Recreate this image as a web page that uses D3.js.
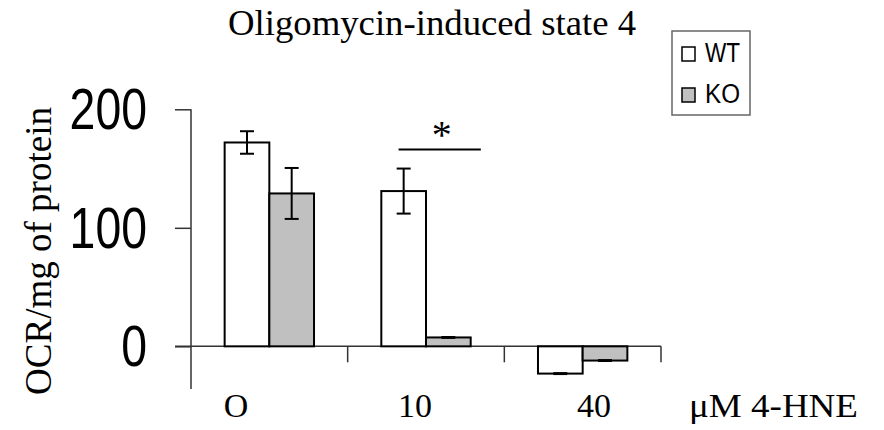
<!DOCTYPE html>
<html>
<head>
<meta charset="utf-8">
<script src="https://cdn.jsdelivr.net/npm/d3@7"></script>
<style>
  html, body { margin: 0; padding: 0; background: #fff; }
  svg { display: block; }
  .serif { font-family: "Liberation Serif", "Times New Roman", Times, serif; }
  .sans { font-family: "Liberation Sans", Arial, Helvetica, sans-serif; }
</style>
</head>
<body>
<svg id="chart" width="884" height="430"></svg>
<script>
// ---- data ----
const categories = ["O", "10", "40"];
const seriesNames = ["WT", "KO"];
const wtValues = [172, 131, -23];
const wtErrors = [9.5, 19, 0.4];
const koValues = [129, 7.5, -12];
const koErrors = [21.5, 0.4, 0.4];
const yTicks = [0, 100, 200];
const titleText = "Oligomycin-induced state 4";
const yLabelText = "OCR/mg of protein";
const xUnitText = "\u03bcM 4-HNE";
const significance = [{ group: "10", value: 166, mark: "*" }];

const colors = { WT: "#ffffff", KO: "#c0c0c0" };

const svg = d3.select("#chart");

// scales
const x0 = d3.scaleBand().domain(categories).range([191, 661]).paddingInner(0).paddingOuter(0);
const x1 = d3.scaleBand().domain(seriesNames).range([0, x0.bandwidth()]).paddingInner(0).paddingOuter(0.753);
const y = d3.scaleLinear().domain([-36, 200]).range([389, 109.3]);
const xLab = d3.scalePoint().domain(categories).range([236, 594]);

const rows = categories.map((c, i) => ({
  cat: c,
  bars: [
    { s: "WT", v: wtValues[i], e: wtErrors[i] },
    { s: "KO", v: koValues[i], e: koErrors[i] }
  ]
}));

// y axis
const yAxis = d3.axisLeft(y).tickValues(yTicks).tickSize(16).tickSizeOuter(0).tickFormat(d3.format("d"));
const gy = svg.append("g").attr("transform", "translate(191,0)").call(yAxis);
gy.attr("font-family", null).attr("font-size", null);
gy.select(".domain").attr("stroke", "#333").attr("stroke-width", 1.5)
  .attr("d", `M0,${y(200)}V${y(-36)}`);
gy.selectAll(".tick line").attr("stroke", "#333").attr("stroke-width", 1.5);
gy.selectAll(".tick text")
  .attr("class", "sans")
  .attr("x", 0).attr("dy", null).attr("y", 19.5)
  .attr("transform", "translate(-44,0) scale(0.8,1)")
  .attr("text-anchor", "end")
  .style("font-size", "58px").attr("fill", "#000");

// zero line with category ticks
svg.append("line")
  .attr("x1", 175).attr("x2", x0.range()[1])
  .attr("y1", y(0)).attr("y2", y(0))
  .attr("stroke", "#333").attr("stroke-width", 1.5);
const boundaries = categories.slice(1).map(c => x0(c)).concat([x0.range()[1]]);
svg.selectAll(".ctick").data(boundaries).join("line")
  .attr("x1", d => d).attr("x2", d => d)
  .attr("y1", y(0)).attr("y2", y(0) + 16)
  .attr("stroke", "#333").attr("stroke-width", 1.5);

// bars
const groups = svg.selectAll(".grp").data(rows).join("g")
  .attr("transform", d => `translate(${x0(d.cat)},0)`);
groups.selectAll("rect").data(d => d.bars).join("rect")
  .attr("x", d => x1(d.s))
  .attr("width", x1.bandwidth())
  .attr("y", d => y(Math.max(0, d.v)))
  .attr("height", d => Math.abs(y(d.v) - y(0)))
  .attr("fill", d => colors[d.s])
  .attr("stroke", "#000").attr("stroke-width", 2);

// error bars
const capW = 14;
const eb = groups.selectAll(".eb").data(d => d.bars).join("g");
eb.append("line")
  .attr("x1", d => x1(d.s) + x1.bandwidth() / 2).attr("x2", d => x1(d.s) + x1.bandwidth() / 2)
  .attr("y1", d => y(d.v + d.e)).attr("y2", d => y(d.v - d.e))
  .attr("stroke", "#000").attr("stroke-width", 2);
eb.selectAll(".cap").data(d => [d.v + d.e, d.v - d.e].map(v => ({ v, d }))).join("line")
  .attr("x1", o => x1(o.d.s) + x1.bandwidth() / 2 - capW / 2)
  .attr("x2", o => x1(o.d.s) + x1.bandwidth() / 2 + capW / 2)
  .attr("y1", o => y(o.v)).attr("y2", o => y(o.v))
  .attr("stroke", "#000").attr("stroke-width", 2);

// significance
significance.forEach(s => {
  const gx = x0(s.group), bw = x0.bandwidth();
  svg.append("line")
    .attr("x1", gx + bw * 0.325).attr("x2", gx + bw * 0.85)
    .attr("y1", y(s.value)).attr("y2", y(s.value))
    .attr("stroke", "#000").attr("stroke-width", 2);
  svg.append("text").attr("class", "serif")
    .attr("x", gx + bw * 0.6).attr("y", y(s.value) - 2)
    .attr("text-anchor", "middle")
    .style("font-size", "40px")
    .text(s.mark);
});

// x labels
svg.selectAll(".xl").data(categories).join("text").attr("class", "serif")
  .attr("x", d => xLab(d)).attr("y", 417)
  .attr("text-anchor", "middle")
  .style("font-size", "34px")
  .text(d => d);
svg.append("text").attr("class", "serif")
  .attr("x", 689).attr("y", 417)
  .style("font-size", "34px")
  .attr("textLength", 169).attr("lengthAdjust", "spacingAndGlyphs")
  .text(xUnitText);

// y label
svg.append("text").attr("class", "serif")
  .attr("transform", "translate(51,251) rotate(-90)")
  .attr("text-anchor", "middle")
  .style("font-size", "37px")
  .attr("textLength", 288).attr("lengthAdjust", "spacingAndGlyphs")
  .text(yLabelText);

// title
svg.append("text").attr("class", "serif")
  .attr("x", 228).attr("y", 35)
  .style("font-size", "35px")
  .attr("textLength", 408).attr("lengthAdjust", "spacingAndGlyphs")
  .text(titleText);

// legend
const lg = svg.append("g");
lg.append("rect").attr("x", 672).attr("y", 31).attr("width", 78).attr("height", 84)
  .attr("fill", "#fff").attr("stroke", "#666").attr("stroke-width", 1.5);
seriesNames.forEach((s, i) => {
  const yy = 47 + i * 41;
  lg.append("rect").attr("x", 682).attr("y", yy).attr("width", 13).attr("height", 14)
    .attr("fill", colors[s]).attr("stroke", "#000").attr("stroke-width", 1.5);
  lg.append("text").attr("class", "sans").attr("x", 705).attr("y", yy + 15)
    .style("font-size", "27px")
    .attr("textLength", 35).attr("lengthAdjust", "spacingAndGlyphs")
    .text(s);
});
</script>
</body>
</html>
